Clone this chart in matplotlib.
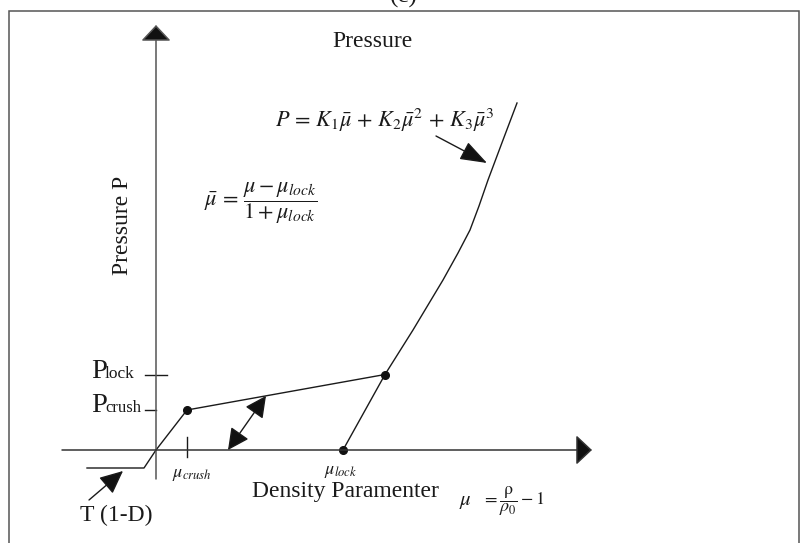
import matplotlib
matplotlib.use('Agg')
import matplotlib.pyplot as plt
from matplotlib.patches import Rectangle

plt.rcParams['font.family'] = ['Liberation Serif', 'DejaVu Serif']
plt.rcParams['mathtext.fontset'] = 'stix'

# crushable-foam pressure vs. density parameter (schematic units)
axis_mu = [-0.94, 4.36]
axis_p = [-0.29, 4.25]

tension_mu = [-0.69, -0.12, 0.0]
tension_p = [-0.18, -0.18, 0.0]

mu_crush, p_crush = 0.31, 0.40
mu_lock, p_lock = 2.29, 0.755
mu_unload = 1.87

hardening_mu = [2.29, 2.57, 2.87, 3.02, 3.14, 3.23, 3.32, 3.47, 3.61]
hardening_p = [0.755, 1.20, 1.70, 1.97, 2.20, 2.44, 2.70, 3.10, 3.47]

LINE = '#1a1a1a'
AXIS = '#555555'

fig = plt.figure(figsize=(8.03, 5.43), dpi=100)
ax = fig.add_axes([0, 0, 1, 1])
ax.set_xlim(-1.56, 6.47)
ax.set_ylim(-0.93, 4.50)
ax.axis('off')

# frame around the panel (open at the bottom)
fig.add_artist(Rectangle((9 / 803, -0.05), 790 / 803, 1.05 - 11 / 543,
                         transform=fig.transFigure, fill=False,
                         ec='#555555', lw=1.1))


def arrow(start, end, style='-|>', hl=1.0, hw=0.5, scale=10, color=LINE,
          lw=1.0):
    ax.annotate('', xy=end, xytext=start,
                arrowprops=dict(arrowstyle=f'{style},head_length={hl},head_width={hw}',
                                mutation_scale=scale, lw=lw, ec=color,
                                fc='#111111', shrinkA=0, shrinkB=0))


# axes with arrow heads
arrow((0, axis_p[0]), (0, axis_p[1]), hl=1.0, hw=0.94, color=AXIS, lw=1.1)
arrow((axis_mu[0], 0), (axis_mu[1], 0), hl=1.0, hw=0.94, color='#333333', lw=1.1)

# tension cut-off and loading path
ax.plot(tension_mu + [mu_crush], tension_p + [p_crush], color=LINE, lw=1.0)
ax.plot([mu_crush, mu_lock], [p_crush, p_lock], color=LINE, lw=1.0)
ax.plot([mu_unload, mu_lock], [0, p_lock], color=LINE, lw=1.0)
ax.plot(hardening_mu, hardening_p, color=LINE, lw=1.0)
ax.plot([mu_crush, mu_lock, mu_unload], [p_crush, p_lock, 0], 'o',
        color='#111111', ms=5.5)

# ticks on the axes
ax.plot([-0.11, 0.11], [p_lock, p_lock], color=LINE, lw=1.0)
ax.plot([-0.11, 0.0], [p_crush, p_crush], color=LINE, lw=1.0)
ax.plot([mu_crush, mu_crush], [-0.07, 0.13], color=LINE, lw=1.0)

# unloading/reloading double arrow between the axis and the crush-lock line
mu_arrow = 1.10
p_arrow = p_crush + (p_lock - p_crush) * (mu_arrow - mu_crush) / (mu_lock - mu_crush)
arrow((0.72, 0.0), (mu_arrow, p_arrow), style='<|-|>', hl=1.1, hw=0.55, scale=12)

# pointers to the tension limit and the hardening curve
arrow((-0.67, -0.50), (-0.33, -0.21), hl=1.2, hw=0.55, scale=12)
arrow((2.80, 3.14), (3.31, 2.87), hl=1.4, hw=0.5, scale=12)

TXT = dict(color='#1a1a1a')
ax.text(2.48, 4.47, '(c)', fontsize=18, ha='center', va='baseline', **TXT)
ax.text(2.16, 4.03, 'Pressure', fontsize=17, ha='center', va='baseline', **TXT)
ax.text(-0.34, 2.25, 'Pressure P', fontsize=17, rotation=90, ha='center',
        va='center', **TXT)

ax.text(-0.65, p_lock - 0.035, 'P', fontsize=20.5, va='baseline', **TXT)
ax.text(-0.51, p_lock - 0.035, 'lock', fontsize=12.5, va='baseline', **TXT)
ax.text(-0.65, p_crush - 0.02, 'P', fontsize=20.5, va='baseline', **TXT)
ax.text(-0.51, p_crush - 0.02, 'crush', fontsize=12, va='baseline', **TXT)

ax.text(mu_crush - 0.15, -0.245, r'$\mu_{crush}$', fontsize=13, va='center', **TXT)
ax.text(mu_unload - 0.02, -0.21, r'$\mu_{lock}$', fontsize=13, ha='center',
        va='center', **TXT)

ax.text(-0.76, -0.71, 'T (1-D)', fontsize=17, va='baseline', **TXT)
ax.text(0.96, -0.47, 'Density Paramenter', fontsize=17, va='baseline', **TXT)
ax.text(3.03, -0.55, r'$\mu$', fontsize=15, va='baseline', **TXT)
ax.text(3.26, -0.51, r'$=\dfrac{\mathrm{\rho}}{\rho_0}-1$', fontsize=13,
        va='center', **TXT)

ax.text(0.48, 2.47, r'$\bar{\mu}\,=\,\dfrac{\mu-\mu_{lock}}{1+\mu_{lock}}$',
        fontsize=16, va='center', **TXT)
ax.text(1.19, 3.30, r'$P\,=\,K_1\bar{\mu}\,+\,K_2\bar{\mu}^2\,+\,K_3\bar{\mu}^3$',
        fontsize=16, va='center', **TXT)

fig.savefig('out.png', dpi=100)
